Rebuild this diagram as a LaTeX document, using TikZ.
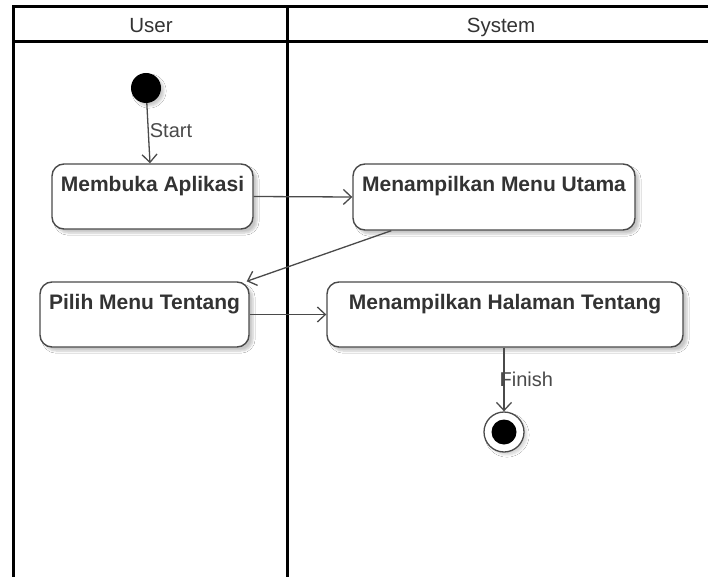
\documentclass[tikz,border=0pt]{standalone}
\usepackage{fontspec}
\setmainfont{Liberation Sans}
\usetikzlibrary{arrows.meta,shadows.blur}

\definecolor{edgegray}{HTML}{4A4A4A}
\definecolor{textgray}{HTML}{333333}

\tikzset{
  lane/.style={line width=3pt, black},
  lanehead/.style={text=textgray, font=\fontsize{20.5}{24}\selectfont, inner sep=0pt, anchor=base},
  actbox/.style={draw=edgegray, line width=1.4pt, fill=white, rounded corners=12pt,
    inner sep=0pt,
    blur shadow={shadow xshift=4pt, shadow yshift=-4pt, shadow opacity=22, shadow blur steps=6}},
  acttext/.style={text=textgray, font=\bfseries\fontsize{21}{25}\selectfont, inner sep=0pt, anchor=base},
  startdot/.style={circle, fill=black, inner sep=0pt, minimum size=30pt,
    blur shadow={shadow xshift=3pt, shadow yshift=-3pt, shadow opacity=20, shadow blur steps=5}},
  endring/.style={circle, draw=edgegray, line width=1.3pt, fill=white, inner sep=0pt, minimum size=40pt,
    blur shadow={shadow xshift=3pt, shadow yshift=-3pt, shadow opacity=15, shadow blur steps=5}},
  enddot/.style={circle, fill=black, inner sep=0pt, minimum size=25pt},
  flow/.style={draw=edgegray, line width=1.3pt, -{Straight Barb[length=8pt,width=15pt,line width=1.3pt]}},
  flowlabel/.style={text=edgegray, font=\fontsize{20}{24}\selectfont, inner sep=0pt, anchor=west}
}

\begin{document}
\begin{tikzpicture}[x=1pt, y=-1pt]
  \useasboundingbox (0,0) rectangle (708,577);
  \fill[white] (0,0) rectangle (708,577);

  % swimlane frame
  \draw[lane] (708,7) -- (13,7) -- (13,577);
  \draw[lane] (13,42) -- (708,42);
  \draw[lane] (287,7) -- (287,577);
  \node[lanehead] (hu) at (151,33) {User};
  \node[lanehead] (hs) at (501,33) {System};

  % initial node
  \node[startdot] (s) at (146,88) {};

  % actions
  \node[actbox, minimum width=201pt, minimum height=65pt] (a) at (152.5,196.5) {};
  \node[acttext] (at) at ([yshift=-28pt]a.north) {Membuka Aplikasi};

  \node[actbox, minimum width=282pt, minimum height=66pt] (u) at (494,197) {};
  \node[acttext] (ut) at ([yshift=-28pt]u.north) {Menampilkan Menu Utama};

  \node[actbox, minimum width=209pt, minimum height=65pt] (p) at (144.5,314.5) {};
  \node[acttext] (pt) at ([yshift=-28pt]p.north) {Pilih Menu Tentang};

  \node[actbox, minimum width=356pt, minimum height=65pt] (h) at (505,314.5) {};
  \node[acttext] (ht) at ([yshift=-28pt]h.north) {Menampilkan Halaman Tentang};

  % final node
  \node[endring] (e) at (504,432) {};
  \node[enddot] (ed) at (e.center) {};

  % control flows
  \draw[flow] (s) -- ([xshift=-2.5pt]a.north)
    node[flowlabel, pos=0.45, xshift=1pt] (sl) {Start};
  \draw[flow] (a.east) -- (u.west);
  \draw[flow] ([xshift=39pt]u.south west) -- ([xshift=-3pt]p.north east);
  \draw[flow] (p.east) -- (h.west);
  \draw[flow] ([xshift=-1pt]h.south) -- (e.north)
    node[flowlabel, pos=0.5, xshift=-5pt] (fl) {Finish};
\end{tikzpicture}
\end{document}
